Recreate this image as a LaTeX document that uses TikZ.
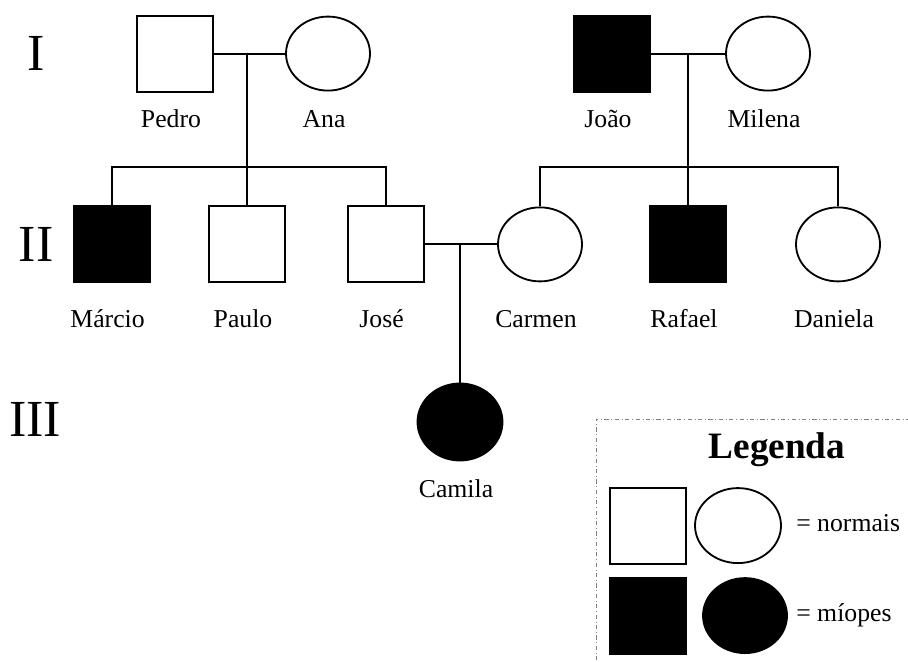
\documentclass[tikz,border=0pt]{standalone}
\usepackage{fontspec}
\setmainfont{Liberation Serif}
\usetikzlibrary{positioning,shapes.geometric}
\tikzset{
  male/.style={draw, rectangle, minimum size=1.9cm, inner sep=0pt, line width=1.3pt},
  female/.style={draw, ellipse, minimum width=2.1cm, minimum height=1.85cm, inner sep=0pt, line width=1.3pt},
  affected/.style={fill=black},
  personname/.style={font=\fontsize{18.3}{20}\selectfont, text height=0.7em, text depth=0.2em,
    inner sep=0pt, anchor=center, xshift=-1mm},
  genlabel/.style={font=\fontsize{37}{40}\selectfont, inner sep=0pt},
  link/.style={line width=1.3pt},
}
\begin{document}
\begin{tikzpicture}
\clip (0,0) rectangle (22.7,16.55);
% Generations
\node[genlabel] (gen1) at (0.9,15.21) {I};
\node[genlabel] (gen2) at (0.9,10.44) {II};
\node[genlabel] (gen3) at (0.88,6.07) {III};
% Rows of names
\coordinate (namerow1) at (0,13.44);
\coordinate (namerow2) at (0,8.44);
\coordinate (namerow3) at (0,4.21);
% First generation
\node[male] (pedro) at (4.375,15.21) {};
\node[female] (ana) at (8.2,15.21) {};
\node[male, affected] (joao) at (15.3,15.21) {};
\node[female] (milena) at (19.2,15.21) {};
\node[personname] at (pedro |- namerow1) {Pedro};
\node[personname] at (ana |- namerow1) {Ana};
\node[personname] at (joao |- namerow1) {João};
\node[personname] at (milena |- namerow1) {Milena};
% Second generation
\node[male, affected] (marcio) at (2.79,10.44) {};
\node[male] (paulo) at (6.175,10.44) {};
\node[male] (jose) at (9.64,10.44) {};
\node[female] (carmen) at (13.5,10.44) {};
\node[male, affected] (rafael) at (17.2,10.44) {};
\node[female] (daniela) at (20.95,10.44) {};
\node[personname] at (marcio |- namerow2) {Márcio};
\node[personname] at (paulo |- namerow2) {Paulo};
\node[personname] at (jose |- namerow2) {José};
\node[personname] at (carmen |- namerow2) {Carmen};
\node[personname] at (rafael |- namerow2) {Rafael};
\node[personname] at (daniela |- namerow2) {Daniela};
% Third generation
\node[female, affected, minimum width=2.125cm, minimum height=1.925cm] (camila) at (11.5,6.0) {};
\node[personname] at (camila |- namerow3) {Camila};
% Couples and children
\draw[link] (pedro) -- (ana);
\draw[link] (paulo |- pedro) -- (paulo);
\coordinate (sib1) at (6.175,12.375);
\draw[link] (marcio) |- (sib1) -| (jose);
\draw[link] (joao) -- (milena);
\draw[link] (rafael |- joao) -- (rafael);
\coordinate (sib2) at (17.2,12.375);
\draw[link] (carmen) |- (sib2) -| (daniela);
\draw[link] (jose) -- (carmen);
\draw[link] (camila |- jose) -- (camila);
% Legend
\draw[gray, thin, dash dot] (14.9,-1) |- (24,6.075);
\node[font=\bfseries\fontsize{26.5}{30}\selectfont, inner sep=0pt] (legenda) at (19.425,5.3) {Legenda};
\node[male] (legmale) at (16.2,3.41) {};
\node[female, minimum width=2.15cm, minimum height=1.875cm] (legfemale) at (18.45,3.41) {};
\node[personname, anchor=west, xshift=0pt] (normais) at (20.0,3.35) {= normais};
\node[male, affected] (legmaleaff) at (16.2,1.16) {};
\node[female, affected, minimum height=1.875cm] (legfemaleaff) at (18.625,1.16) {};
\node[personname, anchor=west, xshift=0pt] (miopes) at (20.0,1.1) {= míopes};
\end{tikzpicture}
\end{document}
